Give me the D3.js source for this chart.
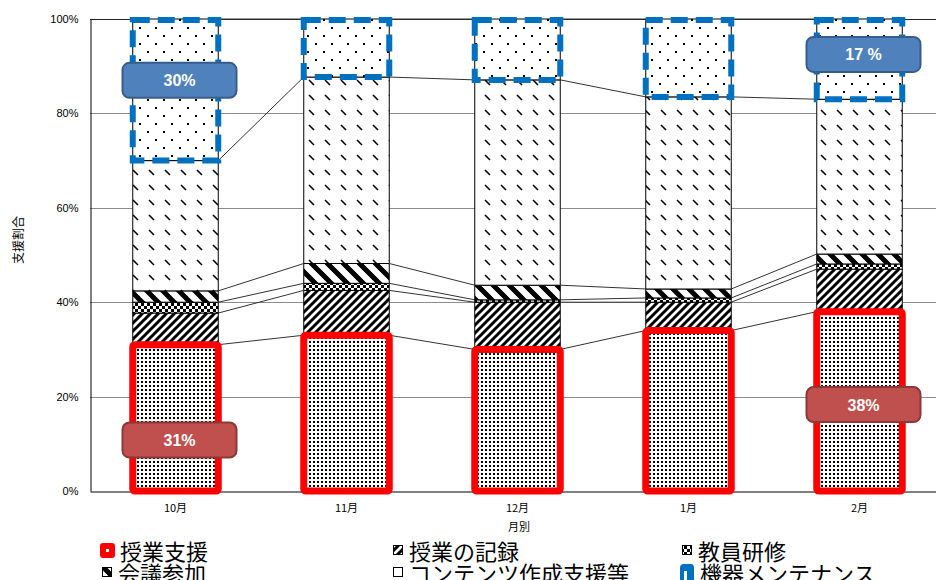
<!DOCTYPE html>
<html>
<head>
<meta charset="utf-8">
<script src="https://cdn.jsdelivr.net/npm/d3@7/dist/d3.min.js"></script>
<style>
  html, body { margin: 0; padding: 0; background: #fff; }
  svg { display: block; }
</style>
</head>
<body>
<svg id="chart" width="936" height="580"></svg>
<script>
// Monthly breakdown of support work (percent of total per month)
const months = ["10月", "11月", "12月", "1月", "2月"];
const seriesNames = ["授業支援", "授業の記録", "教員研修", "会議参加", "コンテンツ作成支援等", "機器メンテナンス"];
const jugyoShien   = [31, 33, 30, 34, 38];
const jugyoKiroku  = [6.7, 9.5, 10.0, 6.0, 9.0];
const kyoinKenshu  = [2.3, 1.5, 0.5, 0.9, 1.1];
const kaigiSanka   = [2.4, 4.2, 3.1, 1.9, 2.1];
const contents     = [27.6, 39.5, 43.5, 40.7, 32.8];
const kikiMainte   = [30, 12.3, 12.9, 16.5, 17];
const yTicks = [0, 20, 40, 60, 80, 100];

const seriesValues = [jugyoShien, jugyoKiroku, kyoinKenshu, kaigiSanka, contents, kikiMainte];
const rows = months.map((m, j) => {
  const r = { month: m };
  seriesNames.forEach((s, i) => { r[s] = seriesValues[i][j]; });
  return r;
});

const svg = d3.select("#chart");
const margin = { left: 90, top: 19, bottom: 491, right: 945 };

const x = d3.scaleBand().domain(months).range([margin.left, margin.right])
  .paddingInner(0.5).paddingOuter(0.25);
const y = d3.scaleLinear().domain([0, 100]).range([margin.bottom, margin.top]);
const bw = x.bandwidth();

// ---- fill patterns ----
const defs = svg.append("defs");

// dense dots
const pDense = defs.append("pattern").attr("id", "pDense").attr("patternUnits", "userSpaceOnUse")
  .attr("width", 4).attr("height", 4);
pDense.append("rect").attr("width", 4).attr("height", 4).attr("fill", "#fff");
pDense.append("rect").attr("x", 1).attr("y", 1).attr("width", 2).attr("height", 2).attr("fill", "#000");

// wide upward diagonal
const pUp = defs.append("pattern").attr("id", "pUp").attr("patternUnits", "userSpaceOnUse")
  .attr("width", 8).attr("height", 8);
pUp.append("rect").attr("width", 8).attr("height", 8).attr("fill", "#fff");
pUp.append("path").attr("d", "M-2,2 L2,-2 M0,8 L8,0 M6,10 L10,6")
  .attr("stroke", "#000").attr("stroke-width", 3);

// small checkerboard
const pCheck = defs.append("pattern").attr("id", "pCheck").attr("patternUnits", "userSpaceOnUse")
  .attr("width", 6).attr("height", 6);
pCheck.append("rect").attr("width", 6).attr("height", 6).attr("fill", "#fff");
pCheck.append("rect").attr("width", 3).attr("height", 3).attr("fill", "#000");
pCheck.append("rect").attr("x", 3).attr("y", 3).attr("width", 3).attr("height", 3).attr("fill", "#000");

// wide downward diagonal
const pDown = defs.append("pattern").attr("id", "pDown").attr("patternUnits", "userSpaceOnUse")
  .attr("width", 16).attr("height", 16);
pDown.append("rect").attr("width", 16).attr("height", 16).attr("fill", "#fff");
pDown.append("path").attr("d", "M-4,-4 L20,20 M-4,12 L4,20 M12,-4 L20,4")
  .attr("stroke", "#000").attr("stroke-width", 5);

// sparse short dashes
const pDash = defs.append("pattern").attr("id", "pDash").attr("patternUnits", "userSpaceOnUse")
  .attr("width", 16).attr("height", 15);
pDash.append("rect").attr("width", 16).attr("height", 15).attr("fill", "#fff");
pDash.append("path").attr("d", "M5,5 L10,10").attr("stroke", "#000").attr("stroke-width", 1.6);

// sparse dots
const pSparse = defs.append("pattern").attr("id", "pSparse").attr("patternUnits", "userSpaceOnUse")
  .attr("width", 16).attr("height", 16);
pSparse.append("rect").attr("width", 16).attr("height", 16).attr("fill", "#fff");
pSparse.append("rect").attr("x", 3).attr("y", 3).attr("width", 2).attr("height", 2).attr("fill", "#000");
pSparse.append("rect").attr("x", 11).attr("y", 11).attr("width", 2).attr("height", 2).attr("fill", "#000");

const fills = ["url(#pDense)", "url(#pUp)", "url(#pCheck)", "url(#pDown)", "url(#pDash)", "url(#pSparse)"];

// ---- gridlines ----
svg.append("g").selectAll("line").data(yTicks.filter(d => d > 0)).join("line")
  .attr("x1", margin.left).attr("x2", margin.right)
  .attr("y1", d => Math.round(y(d)) + 0.5).attr("y2", d => Math.round(y(d)) + 0.5)
  .attr("stroke", d => d === 100 ? "#222" : "#8c8c8c").attr("stroke-width", 1);

// ---- stacked bars ----
const stack = d3.stack().keys(seriesNames);
const layers = stack(rows);

const gBars = svg.append("g");
layers.forEach((layer, i) => {
  gBars.append("g").selectAll("rect").data(layer).join("rect")
    .attr("x", d => x(d.data.month))
    .attr("y", d => y(d[1]))
    .attr("width", bw)
    .attr("height", d => y(d[0]) - y(d[1]))
    .attr("fill", fills[i])
    .attr("stroke", "#000").attr("stroke-width", 1);
});

// ---- series lines between bars ----
const gLines = svg.append("g");
layers.forEach(layer => {
  for (let j = 0; j < layer.length - 1; j++) {
    gLines.append("line")
      .attr("x1", x(layer[j].data.month) + bw).attr("y1", y(layer[j][1]))
      .attr("x2", x(layer[j + 1].data.month)).attr("y2", y(layer[j + 1][1]))
      .attr("stroke", "#333").attr("stroke-width", 1);
  }
});

// ---- axes ----
const yAxis = svg.append("g").attr("transform", `translate(${margin.left + 0.5},0)`)
  .call(d3.axisLeft(y).tickValues(yTicks).tickFormat(d => d + "%").tickSize(0).tickPadding(12));
yAxis.select(".domain").attr("stroke", "#000");
yAxis.selectAll("text").attr("font-family", "Liberation Sans, Arial, sans-serif")
  .attr("font-size", 11).attr("fill", "#000");

const xAxis = svg.append("g").attr("transform", `translate(0,${margin.bottom + 0.5})`)
  .call(d3.axisBottom(x).tickSize(0).tickPadding(13));
xAxis.select(".domain").attr("stroke", "#000");
xAxis.selectAll("text").attr("font-family", "Noto Sans CJK JP, sans-serif")
  .attr("font-size", 11).attr("fill", "#000");

// ---- highlight borders ----
const gHi = svg.append("g");
// 授業支援: red frame
gHi.selectAll("rect.red").data(layers[0]).join("rect").attr("class", "red")
  .attr("x", d => x(d.data.month)).attr("y", d => y(d[1]))
  .attr("width", bw).attr("height", d => y(d[0]) - y(d[1]))
  .attr("fill", "none").attr("stroke", "#ff0000").attr("stroke-width", 7)
  .attr("rx", 2);
// 機器メンテナンス: blue dashed frame
gHi.selectAll("rect.blue").data(layers[5]).join("rect").attr("class", "blue")
  .attr("x", d => x(d.data.month)).attr("y", d => y(d[1]) + 1)
  .attr("width", bw).attr("height", d => y(d[0]) - y(d[1]) - 1)
  .attr("fill", "none").attr("stroke", "#0070c0").attr("stroke-width", 6)
  .attr("stroke-dasharray", "17,8");

// ---- callout labels ----
const callouts = [
  { series: 5, month: 0, at: 87,   fill: "#4f81bd", stroke: "#385d8a", fmt: v => v + "%" },
  { series: 5, month: 4, at: 92.5, fill: "#4f81bd", stroke: "#385d8a", fmt: v => v + " %" },
  { series: 0, month: 0, at: 10.8, fill: "#c0504d", stroke: "#8c3836", fmt: v => v + "%" },
  { series: 0, month: 4, at: 18.3, fill: "#c0504d", stroke: "#8c3836", fmt: v => v + "%" }
];
const gCall = svg.append("g");
callouts.forEach(c => {
  const cx = x(months[c.month]) + bw / 2 + 4;
  const cy = y(c.at);
  gCall.append("rect").attr("x", cx - 57).attr("y", cy - 17.5).attr("width", 114).attr("height", 35)
    .attr("rx", 7).attr("fill", c.fill).attr("stroke", c.stroke).attr("stroke-width", 2);
  gCall.append("text").attr("x", cx).attr("y", cy + 6).attr("text-anchor", "middle")
    .attr("font-family", "Liberation Sans, Arial, sans-serif").attr("font-size", 16)
    .attr("font-weight", "bold").attr("fill", "#fff")
    .text(c.fmt(seriesValues[c.series][c.month]));
});

// ---- axis titles ----
svg.append("text").attr("transform", "translate(23,240) rotate(-90)").attr("text-anchor", "middle")
  .attr("font-family", "Noto Sans CJK JP, sans-serif").attr("font-size", 12).attr("fill", "#000")
  .text("支援割合");
svg.append("text").attr("x", 519).attr("y", 531).attr("text-anchor", "middle")
  .attr("font-family", "Noto Sans CJK JP, sans-serif").attr("font-size", 11).attr("fill", "#000")
  .text("月別");

// ---- legend ----
const legendPos = [
  { x: 100, y: 560 }, { x: 393, y: 560 }, { x: 682, y: 560 },
  { x: 102, y: 582 }, { x: 393, y: 582 }, { x: 680, y: 582 }
];
const legendOrder = [0, 1, 2, 3, 4, 5];
const gLeg = svg.append("g");
legendOrder.forEach((si, k) => {
  const p = legendPos[k];
  const g = gLeg.append("g");
  let textX;
  if (si === 0) {
    g.append("rect").attr("x", p.x).attr("y", p.y - 17).attr("width", 15).attr("height", 15)
      .attr("rx", 3).attr("fill", "#ff0000");
    g.append("rect").attr("x", p.x + 6).attr("y", p.y - 11).attr("width", 3).attr("height", 3).attr("fill", "#fff");
    textX = p.x + 20;
  } else if (si === 5) {
    g.append("path").attr("d", `M${p.x},${p.y} V${p.y - 14} Q${p.x},${p.y - 18} ${p.x + 4},${p.y - 18} H${p.x + 11} Q${p.x + 14},${p.y - 18} ${p.x + 14},${p.y - 14} V${p.y}`)
      .attr("fill", "#0070c0");
    g.append("rect").attr("x", p.x + 4).attr("y", p.y - 11).attr("width", 3).attr("height", 11).attr("fill", "#fff");
    textX = p.x + 20;
  } else {
    g.append("rect").attr("x", p.x + 0.5).attr("y", p.y - 14.5).attr("width", 9).attr("height", 9)
      .attr("fill", fills[si]).attr("stroke", "#000").attr("stroke-width", 1);
    textX = p.x + 16;
  }
  g.append("text").attr("x", textX).attr("y", p.y)
    .attr("font-family", "Noto Sans CJK JP, sans-serif").attr("font-size", 22).attr("fill", "#000")
    .text(seriesNames[si]);
});
</script>
</body>
</html>
